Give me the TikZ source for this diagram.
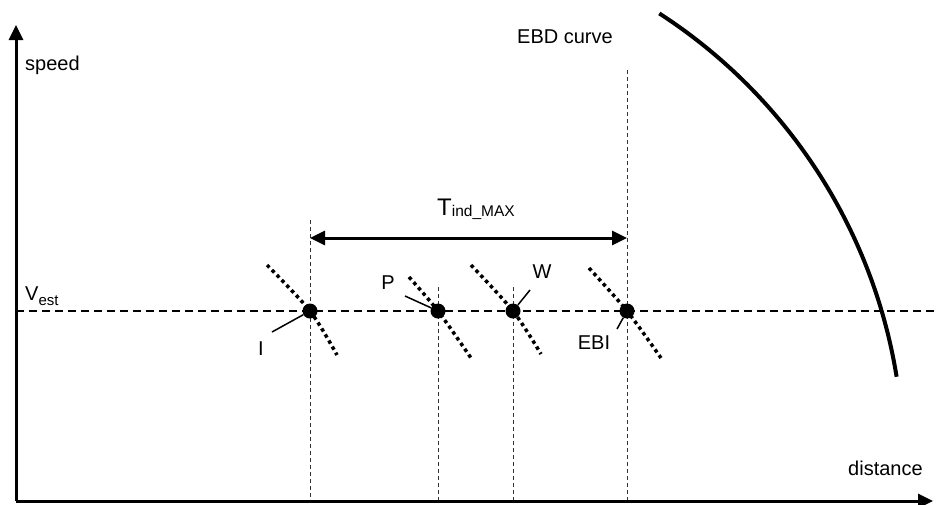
\documentclass[tikz,border=0pt]{standalone}
\usepackage{fontspec}
\setmainfont{Liberation Sans}
\usetikzlibrary{arrows.meta}
\begin{document}
\begin{tikzpicture}[x=1pt,y=-1pt,
  lbl/.style={inner sep=0pt, anchor=base west, font=\fontsize{20}{24}\selectfont},
  clbl/.style={inner sep=0pt, anchor=center, font=\fontsize{20}{24}\selectfont},
  vdash/.style={line width=1pt, dash pattern=on 4pt off 3pt, black!80},
  hdash/.style={line width=1.3pt, dash pattern=on 8pt off 5pt},
  dotcurve/.style={line width=3.5pt, dash pattern=on 3.5pt off 3.5pt},
  pt/.style={circle, fill=black, inner sep=0pt, minimum size=15pt},
  ptr/.style={line width=1.5pt},
  axis/.style={line width=3pt, -{Triangle[length=15pt,width=14pt]}},
  dim/.style={line width=3pt, {Triangle[length=15pt,width=14pt]}-{Triangle[length=15pt,width=14pt]}},
  ebd/.style={line width=4pt}]
\useasboundingbox (0,0) rectangle (937,504);

% coordinates
\coordinate (O) at (16,501);
\coordinate (Ytop) at (16,25);
\coordinate (Xend) at (933,501);
\coordinate (Vl) at (16,311);
\coordinate (Vr) at (937,311);

% vertical dashed lines
\coordinate (Itop) at (310,220);  \coordinate (Ibot) at (310,501);
\coordinate (Ptop) at (438,287);  \coordinate (Pbot) at (438,501);
\coordinate (Wtop) at (513,287);  \coordinate (Wbot) at (513,501);
\coordinate (Etop) at (627,70);   \coordinate (Ebot) at (627,501);
\draw[vdash] (Itop) -- (Ibot);
\draw[vdash] (Ptop) -- (Pbot);
\draw[vdash] (Wtop) -- (Wbot);
\draw[vdash] (Etop) -- (Ebot);

% V_est dashed line
\draw[hdash] (Vl) -- (Vr);

% dotted curves
\draw[dotcurve] plot[smooth] coordinates {(267,265) (310,311) (337,355)};
\draw[dotcurve] plot[smooth] coordinates {(409,277) (438,311) (471,358)};
\draw[dotcurve] plot[smooth] coordinates {(471,265) (513,311) (541,354)};
\draw[dotcurve] plot[smooth] coordinates {(589,268) (627,311) (661,358)};

% dots
\node[pt] (dI) at (310,311) {};
\node[pt] (dP) at (438,311) {};
\node[pt] (dW) at (513,311) {};
\node[pt] (dE) at (627,311) {};

% pointers
\coordinate (cI) at (272,332);
\coordinate (cP) at (405,296);
\coordinate (cW) at (530,290);
\coordinate (cE) at (617,329);
\draw[ptr] (cI) -- (dI);
\draw[ptr] (cP) -- (dP);
\draw[ptr] (cW) -- (dW);
\draw[ptr] (cE) -- (dE);

% point labels
\node[clbl] (lI) at (261,349) {I};
\node[clbl] (lP) at (388,283) {P};
\node[clbl] (lW) at (542,272) {W};
\node[clbl] (lE) at (594,343) {EBI};

% T_ind_MAX
\coordinate (Ta) at (310,238);
\coordinate (Tb) at (627,238);
\draw[dim] (Ta) -- (Tb);
\node[inner sep=0pt, anchor=base west] (tlbl) at (437,215)
  {\fontsize{24}{28}\selectfont T\raisebox{-1.5pt}{\fontsize{15.5}{18}\selectfont ind\_MAX}};

% axes
\draw[axis] (O) -- (Ytop);
\draw[axis] (O) -- (Xend);

% axis labels
\node[lbl] (speed) at (25,70) {speed};
\node[lbl] (dist) at (848,475) {distance};
\node[lbl] (vest) at (25,300) {V\raisebox{-5pt}{\fontsize{15}{18}\selectfont est}};
\node[lbl] (ebdl) at (517,43) {EBD curve};

% EBD curve (circular arc)
\coordinate (ebdC) at (369,462.2);
\draw[ebd] (ebdC) ++(-57.1:534.5) arc[start angle=-57.1, end angle=-9.2, radius=534.5];
\end{tikzpicture}
\end{document}
